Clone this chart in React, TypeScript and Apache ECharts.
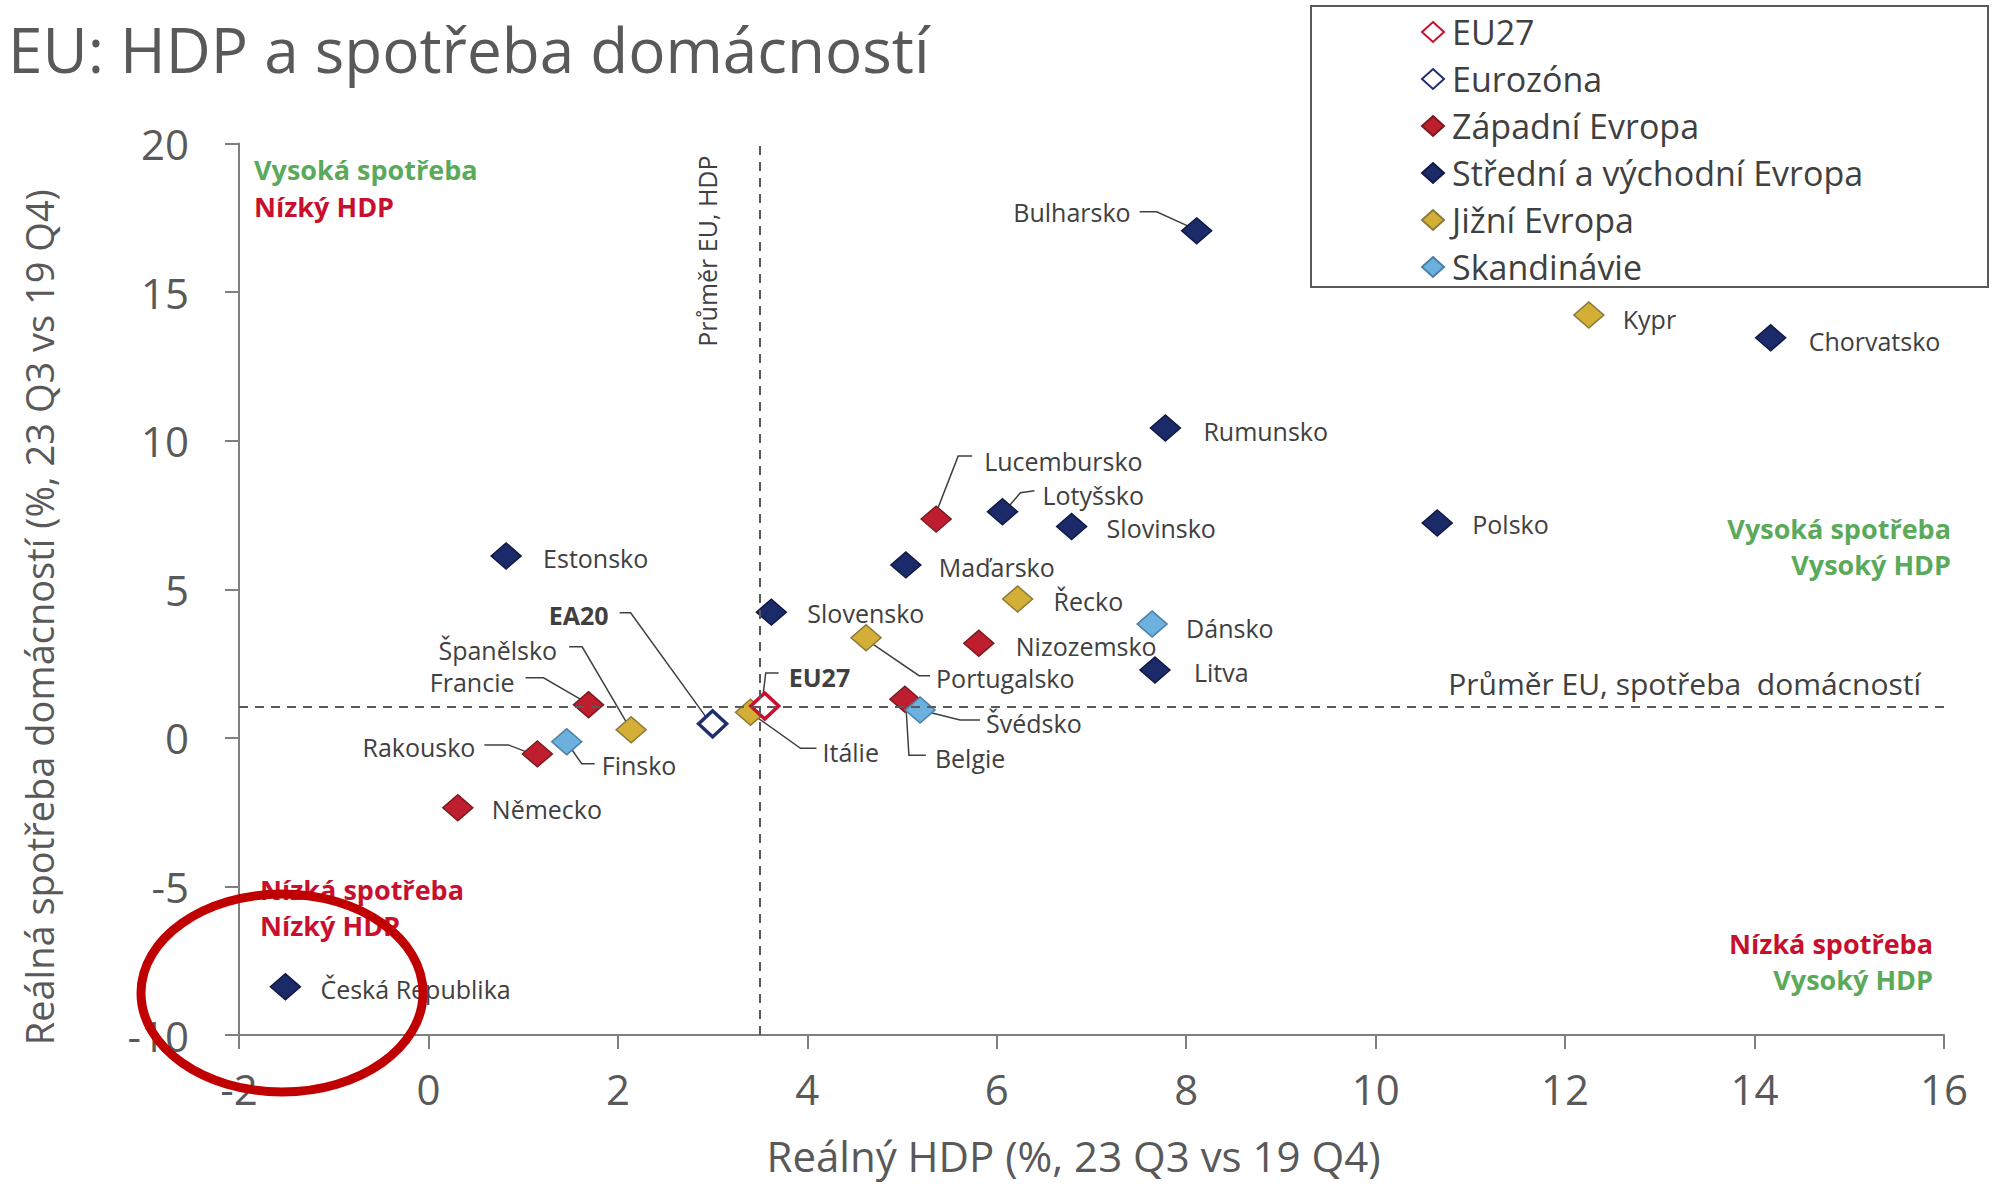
import React, { useEffect, useRef } from "react";
import * as echarts from "echarts";

// ---------- DATA ----------
const eu27Names = ["EU27"];
const eu27Gdp = [3.55];
const eu27Cons = [1.07];

const ezNames = ["EA20"];
const ezGdp = [3.0];
const ezCons = [0.47];

const westNames = ["Lucembursko", "Nizozemsko", "Francie", "Belgie", "Rakousko", "Německo"];
const westGdp = [5.36, 5.81, 1.69, 5.03, 1.15, 0.31];
const westCons = [7.36, 3.18, 1.11, 1.3, -0.54, -2.35];

const ceeNames = [
  "Bulharsko", "Chorvatsko", "Rumunsko", "Lotyšsko", "Slovinsko", "Polsko",
  "Estonsko", "Maďarsko", "Slovensko", "Litva", "Česká Republika",
];
const ceeGdp = [8.11, 14.17, 7.78, 6.06, 6.79, 10.65, 0.82, 5.04, 3.62, 7.67, -1.51];
const ceeCons = [17.06, 13.46, 10.43, 7.61, 7.11, 7.23, 6.12, 5.82, 4.23, 2.28, -8.38];

const southNames = ["Kypr", "Řecko", "Portugalsko", "Itálie", "Španělsko"];
const southGdp = [12.25, 6.22, 4.62, 3.4, 2.14];
const southCons = [14.23, 4.67, 3.37, 0.86, 0.27];

const scanNames = ["Dánsko", "Švédsko", "Finsko"];
const scanGdp = [7.64, 5.19, 1.46];
const scanCons = [3.83, 0.94, -0.13];

const avgGdp = 3.5;
const avgCons = 1.06;

const seriesNames = [
  "EU27",
  "Eurozóna",
  "Západní Evropa",
  "Střední a východní Evropa",
  "Jižní Evropa",
  "Skandinávie",
];

const xTicks = { min: -2, max: 16, interval: 2 };
const yTicks = { min: -10, max: 20, interval: 5 };

// ---------- LABEL LAYOUT (pixel offsets relative to each point) ----------
type LCfg = { dx: number; dy: number; align?: "left" | "right"; bold?: boolean; leader?: number[][] };
const labelCfg: Record<string, LCfg> = {
  Bulharsko: { dx: -66, dy: -19, align: "right", leader: [[-57, -19], [-40, -19], [-9, -5]] },
  Kypr: { dx: 34, dy: 4 },
  Chorvatsko: { dx: 38, dy: 3 },
  Rumunsko: { dx: 38, dy: 3 },
  Lucembursko: { dx: 48, dy: -58, leader: [[1, -9], [22, -63], [36, -63]] },
  Lotyšsko: { dx: 40, dy: -17, leader: [[6, -5], [18, -19], [32, -21]] },
  Slovinsko: { dx: 35, dy: 1 },
  Polsko: { dx: 35, dy: 1 },
  Estonsko: { dx: 37, dy: 2 },
  "Maďarsko": { dx: 33, dy: 2 },
  "Řecko": { dx: 36, dy: 2 },
  Slovensko: { dx: 36, dy: 1 },
  "Dánsko": { dx: 34, dy: 4 },
  Portugalsko: { dx: 70, dy: 40, leader: [[6, 6], [53, 38], [64, 38]] },
  Nizozemsko: { dx: 37, dy: 3 },
  Litva: { dx: 39, dy: 2 },
  EU27: { dx: 24, dy: -29, bold: true, leader: [[-2, -8], [1, -33], [14, -33]] },
  "Itálie": { dx: 72, dy: 40, leader: [[5, 4], [50, 36], [66, 36]] },
  Belgie: { dx: 30, dy: 59, leader: [[1, 6], [4, 56], [21, 56]] },
  "Švédsko": { dx: 66, dy: 13, leader: [[8, 2], [40, 10], [60, 10]] },
  Francie: { dx: -74, dy: -23, align: "right", leader: [[-63, -27], [-45, -27], [-7, -5]] },
  "Španělsko": { dx: -74, dy: -80, align: "right", leader: [[-62, -83], [-49, -83], [-2, -3]] },
  EA20: { dx: -104, dy: -109, align: "right", bold: true, leader: [[-93, -111], [-82, -111], [-6, -6]] },
  Finsko: { dx: 35, dy: 23, leader: [[3, 5], [15, 22], [28, 22]] },
  Rakousko: { dx: -62, dy: -7, align: "right", leader: [[-53, -9], [-29, -9], [-11, -2]] },
  "Německo": { dx: 34, dy: 1 },
  "Česká Republika": { dx: 35, dy: 2 },
};

const FONT = "'Open Sans', 'Noto Sans', sans-serif";
const TXT = "#404040";
const GREEN = "#5BAA5B";
const RED = "#C8102E";
const QFONT = `bold 27px ${FONT}`;

function makeData(names: string[], xs: number[], ys: number[]) {
  return names.map((n, i) => {
    const c = labelCfg[n] || { dx: 30, dy: 0 };
    return {
      name: n,
      value: [xs[i], ys[i]],
      label: {
        show: true,
        position: "inside",
        align: c.align || "left",
        verticalAlign: "middle",
        offset: [c.dx, c.dy],
        formatter: n,
        fontSize: 25,
        fontFamily: FONT,
        fontWeight: c.bold ? "bold" : "normal",
        color: TXT,
      },
    };
  });
}

export default function App() {
  const ref = useRef<HTMLDivElement>(null);

  useEffect(() => {
    if (!ref.current) return;
    const chart = echarts.init(ref.current, null, { renderer: "svg" });

    const allNames = [...eu27Names, ...ezNames, ...westNames, ...ceeNames, ...southNames, ...scanNames];
    const allX = [...eu27Gdp, ...ezGdp, ...westGdp, ...ceeGdp, ...southGdp, ...scanGdp];
    const allY = [...eu27Cons, ...ezCons, ...westCons, ...ceeCons, ...southCons, ...scanCons];
    const leaderNames: string[] = [];
    const leaderRows: number[][] = [];
    allNames.forEach((n, i) => {
      if (labelCfg[n] && labelCfg[n].leader) {
        leaderNames.push(n);
        leaderRows.push([allX[i], allY[i]]);
      }
    });

    const sym = { type: "scatter", symbol: "diamond", symbolSize: [30, 26], z: 3 };

    const quad = (text: string, x: number, y: number, fill: string, align: string) => ({
      type: "text",
      z: 5,
      x,
      y,
      style: { text, fill, font: QFONT, textAlign: align, textVerticalAlign: "middle" },
    });

    const option: any = {
      animation: false,
      backgroundColor: "#ffffff",
      title: {
        text: "EU: HDP a spotřeba domácností",
        left: 8,
        top: 18,
        padding: 0,
        textStyle: { fontFamily: FONT, fontSize: 62, fontWeight: "normal", color: "#595959" },
      },
      legend: {
        data: seriesNames,
        orient: "vertical",
        left: 1416,
        top: 9,
        itemWidth: 22,
        itemHeight: 20,
        itemGap: 11,
        icon: "diamond",
        z: 10,
        textStyle: { fontFamily: FONT, fontSize: 34, color: TXT, lineHeight: 36, padding: [0, 0, 0, 3] },
      },
      grid: { left: 239, right: 48, top: 143.5, bottom: 153, containLabel: false },
      xAxis: {
        type: "value",
        min: xTicks.min,
        max: xTicks.max,
        interval: xTicks.interval,
        name: "Reálný HDP (%, 23 Q3 vs 19 Q4)",
        nameLocation: "middle",
        nameGap: 99,
        nameTextStyle: { fontFamily: FONT, fontSize: 42, color: "#595959", padding: [0, 36, 0, 0] },
        axisLine: { show: true, onZero: false, lineStyle: { color: "#7f7f7f", width: 2 } },
        axisTick: { show: true, inside: false, length: 14, lineStyle: { color: "#7f7f7f", width: 2 } },
        splitLine: { show: false },
        axisLabel: { fontFamily: FONT, fontSize: 42, color: "#595959", margin: 32 },
      },
      yAxis: {
        type: "value",
        min: yTicks.min,
        max: yTicks.max,
        interval: yTicks.interval,
        name: "Reálná spotřeba domácností (%, 23 Q3 vs 19 Q4)",
        nameLocation: "middle",
        nameRotate: 90,
        nameGap: 181,
        nameTextStyle: { fontFamily: FONT, fontSize: 38, color: "#595959", padding: [0, 56, 0, 0] },
        axisLine: { show: true, onZero: false, lineStyle: { color: "#7f7f7f", width: 2 } },
        axisTick: { show: true, inside: false, length: 14, lineStyle: { color: "#7f7f7f", width: 2 } },
        splitLine: { show: false },
        axisLabel: { fontFamily: FONT, fontSize: 42, color: "#595959", margin: 50 },
      },
      graphic: [
        {
          type: "rect",
          z: 0,
          shape: { x: 1311, y: 6, width: 677, height: 281 },
          style: { fill: "#ffffff", stroke: "#595959", lineWidth: 2 },
        },
        quad("Vysoká spotřeba", 254, 169, GREEN, "left"),
        quad("Nízký HDP", 254, 206, RED, "left"),
        quad("Vysoká spotřeba", 1951, 528, GREEN, "right"),
        quad("Vysoký HDP", 1951, 564, GREEN, "right"),
        quad("Nízká spotřeba", 260, 889, RED, "left"),
        quad("Nízký HDP", 260, 925, RED, "left"),
        quad("Nízká spotřeba", 1933, 943, RED, "right"),
        quad("Vysoký HDP", 1933, 979, GREEN, "right"),
        {
          type: "ellipse",
          z: 100,
          shape: { cx: 282, cy: 993, rx: 141, ry: 99 },
          style: { fill: null, stroke: "#C00000", lineWidth: 9 },
        },
      ],
      series: [
        {
          type: "custom",
          name: "leaders",
          coordinateSystem: "cartesian2d",
          silent: true,
          z: 1,
          data: leaderRows,
          renderItem: (params: any, api: any) => {
            const n = leaderNames[params.dataIndex];
            const c = api.coord([api.value(0), api.value(1)]);
            const pts = (labelCfg[n].leader || []).map((p) => [c[0] + p[0], c[1] + p[1]]);
            return {
              type: "polyline",
              shape: { points: pts },
              style: { stroke: "#404040", lineWidth: 1.5, fill: null },
            };
          },
        },
        {
          ...sym,
          name: "Jižní Evropa",
          data: makeData(southNames, southGdp, southCons),
          itemStyle: { color: "#D4AF37", borderColor: "#8C7A3A", borderWidth: 1.5, opacity: 1 },
        },
        {
          ...sym,
          name: "EU27",
          symbolSize: [28, 26],
          data: makeData(eu27Names, eu27Gdp, eu27Cons),
          itemStyle: { color: "#ffffff", borderColor: "#C8102E", borderWidth: 3.5, opacity: 1 },
          markLine: {
            silent: true,
            symbol: "none",
            lineStyle: { type: [9, 7], color: "#595959", width: 2 },
            data: [
              {
                xAxis: avgGdp,
                label: {
                  formatter: "Průměr EU, HDP",
                  position: "insideEndTop",
                  distance: [12, 40],
                  fontFamily: FONT,
                  fontSize: 25,
                  color: TXT,
                },
              },
              {
                yAxis: avgCons,
                label: {
                  formatter: "Průměr EU, spotřeba  domácností",
                  position: "insideEndTop",
                  distance: [23, 8],
                  fontFamily: FONT,
                  fontSize: 30,
                  color: TXT,
                },
              },
            ],
          },
        },
        {
          ...sym,
          name: "Eurozóna",
          symbolSize: [28, 26],
          data: makeData(ezNames, ezGdp, ezCons),
          itemStyle: { color: "#ffffff", borderColor: "#1F2F6E", borderWidth: 3.5, opacity: 1 },
        },
        {
          ...sym,
          name: "Západní Evropa",
          data: makeData(westNames, westGdp, westCons),
          itemStyle: { color: "#BE1E2D", borderColor: "#7A1A20", borderWidth: 1.5, opacity: 1 },
        },
        {
          ...sym,
          name: "Střední a východní Evropa",
          data: makeData(ceeNames, ceeGdp, ceeCons),
          itemStyle: { color: "#1B2A68", borderColor: "#101A45", borderWidth: 1.5, opacity: 1 },
        },
        {
          ...sym,
          name: "Skandinávie",
          data: makeData(scanNames, scanGdp, scanCons),
          itemStyle: { color: "#6CB0DE", borderColor: "#4A7FA8", borderWidth: 1.5, opacity: 1 },
        },
      ],
    };

    chart.setOption(option);
    return () => chart.dispose();
  }, []);

  return (
    <div
      ref={ref}
      style={{ position: "fixed", left: 0, top: 0, width: 1992, height: 1188, background: "#fff" }}
    />
  );
}
